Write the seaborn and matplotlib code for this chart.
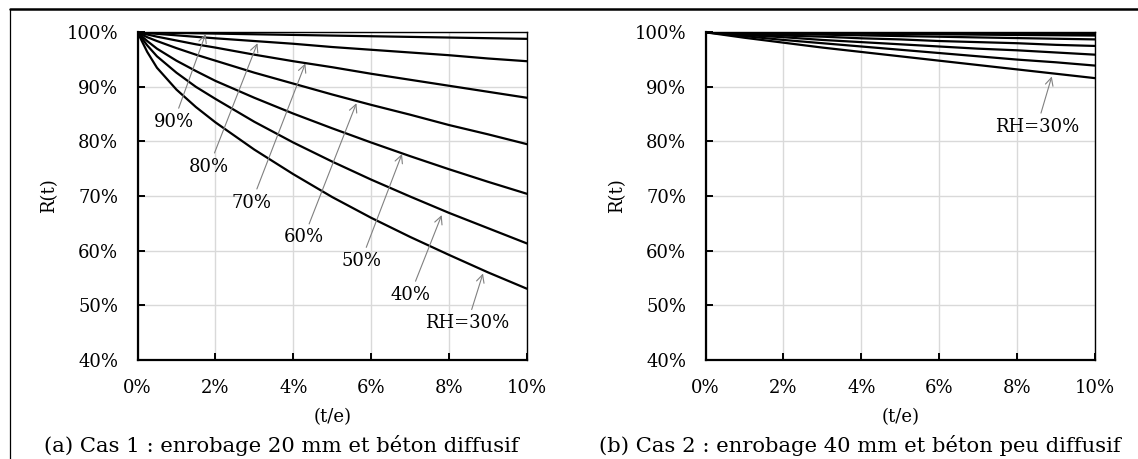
import matplotlib
matplotlib.use("Agg")
import matplotlib.pyplot as plt
from matplotlib.lines import Line2D
from matplotlib.ticker import PercentFormatter
import seaborn as sns
import pandas as pd

# ---------------- data ----------------
rh_labels = ["90%", "80%", "70%", "60%", "50%", "40%", "RH=30%"]

# Case 1 : cover 20 mm, diffusive concrete  (x = t/e in %, y = R(t) in %)
t_case1 = [0, 0.25, 0.5, 1, 1.5, 2, 3, 4, 5, 6, 7, 8, 9, 10]
case1_rh90 = [100, 99.97, 99.94, 99.88, 99.82, 99.76, 99.64, 99.52, 99.40, 99.28, 99.16, 99.04, 98.92, 98.8]
case1_rh80 = [100, 99.86, 99.72, 99.45, 99.17, 98.9, 98.4, 97.9, 97.3, 96.8, 96.3, 95.8, 95.2, 94.7]
case1_rh70 = [100, 99.6, 99.2, 98.5, 97.8, 97.2, 95.9, 94.7, 93.6, 92.4, 91.3, 90.2, 89.1, 88.0]
case1_rh60 = [100, 99.1, 98.4, 97.1, 95.9, 94.8, 92.6, 90.6, 88.6, 86.7, 84.9, 83.0, 81.3, 79.5]
case1_rh50 = [100, 98.4, 97.0, 94.8, 92.9, 91.1, 88.0, 85.1, 82.4, 79.8, 77.3, 74.9, 72.6, 70.4]
case1_rh40 = [100, 97.6, 95.6, 92.6, 90.0, 87.8, 83.6, 79.8, 76.3, 73.0, 69.9, 66.9, 64.1, 61.3]
case1_rh30 = [100, 96.4, 93.5, 89.5, 86.3, 83.5, 78.5, 74.0, 69.8, 66.0, 62.5, 59.2, 56.0, 53.0]

# Case 2 : cover 40 mm, low-diffusivity concrete
t_case2 = [0, 1, 2, 3, 4, 5, 6, 7, 8, 9, 10]
case2_rh90 = [100, 99.97, 99.94, 99.91, 99.88, 99.85, 99.82, 99.79, 99.76, 99.73, 99.7]
case2_rh80 = [100, 99.93, 99.86, 99.80, 99.74, 99.68, 99.63, 99.57, 99.51, 99.46, 99.4]
case2_rh70 = [100, 99.84, 99.70, 99.57, 99.44, 99.31, 99.19, 99.06, 98.94, 98.82, 98.7]
case2_rh60 = [100, 99.7, 99.4, 99.2, 98.9, 98.7, 98.4, 98.2, 98.0, 97.7, 97.5]
case2_rh50 = [100, 99.5, 99.1, 98.6, 98.2, 97.8, 97.4, 97.0, 96.7, 96.3, 95.9]
case2_rh40 = [100, 99.3, 98.6, 98.0, 97.4, 96.8, 96.2, 95.6, 95.0, 94.5, 93.9]
case2_rh30 = [100, 99.0, 98.1, 97.2, 96.4, 95.6, 94.8, 94.0, 93.2, 92.4, 91.6]

x_ticks = [0, 2, 4, 6, 8, 10]
y_ticks = [40, 50, 60, 70, 80, 90, 100]
captions = ["(a) Cas 1 : enrobage 20 mm et béton diffusif",
            "(b) Cas 2 : enrobage 40 mm et béton peu diffusif"]


def long_frame(t, series):
    rows = []
    for lab, vals in zip(rh_labels, series):
        for x, y in zip(t, vals):
            rows.append({"t": x, "R": y, "RH": lab})
    return pd.DataFrame(rows)


df1 = long_frame(t_case1, [case1_rh90, case1_rh80, case1_rh70, case1_rh60,
                           case1_rh50, case1_rh40, case1_rh30])
df2 = long_frame(t_case2, [case2_rh90, case2_rh80, case2_rh70, case2_rh60,
                           case2_rh50, case2_rh40, case2_rh30])

# ---------------- style ----------------
sns.set_theme(style="whitegrid")
plt.rcParams["font.family"] = ["DejaVu Serif"]
plt.rcParams["axes.unicode_minus"] = False

W, H = 1138, 459
fig = plt.figure(figsize=(W / 100, H / 100), dpi=100)
fig.patch.set_facecolor("white")

ax_a = fig.add_axes([137.5 / W, 1 - 359.7 / H, 389.5 / W, 327.4 / H])
ax_b = fig.add_axes([705.5 / W, 1 - 359.7 / H, 389.5 / W, 327.4 / H])

black_pal = {lab: "black" for lab in rh_labels}

# annotation layout: (label, text position, arrow head position)
annots_a = [("90%", (0.93, 83.6), (1.75, 99.7)),
            ("80%", (1.84, 75.4), (3.08, 98.0)),
            ("70%", (2.93, 68.8), (4.31, 94.3)),
            ("60%", (4.27, 62.4), (5.62, 87.0)),
            ("50%", (5.74, 58.1), (6.79, 77.7)),
            ("40%", (7.00, 51.9), (7.81, 66.5)),
            ("RH=30%", (8.47, 46.7), (8.87, 55.8))]
annots_b = [("RH=30%", (8.51, 82.7), (8.89, 91.9))]

FS = 13
for ax, df, annots in [(ax_a, df1, annots_a), (ax_b, df2, annots_b)]:
    sns.lineplot(data=df, x="t", y="R", hue="RH", palette=black_pal,
                 linewidth=1.6, legend=False, ax=ax, sort=True)
    ax.set_xlim(0, 10)
    ax.set_ylim(40, 100)
    ax.set_xticks(x_ticks)
    ax.set_yticks(y_ticks)
    ax.xaxis.set_major_formatter(PercentFormatter(decimals=0))
    ax.yaxis.set_major_formatter(PercentFormatter(decimals=0))
    ax.set_facecolor("white")
    ax.grid(True, color="#d9d9d9", linewidth=1.0)
    ax.set_axisbelow(True)
    for side in ["left", "bottom"]:
        ax.spines[side].set_color("black")
        ax.spines[side].set_linewidth(1.6)
    for side in ["top", "right"]:
        ax.spines[side].set_color("black")
        ax.spines[side].set_linewidth(1.0)
    ax.tick_params(axis="both", direction="in", length=5, width=1.4,
                   colors="black", labelsize=FS, bottom=True, left=True)
    ax.tick_params(axis="x", pad=14)
    ax.tick_params(axis="y", pad=14)
    ax.set_xlabel("(t/e)", fontsize=FS, color="black", labelpad=8)
    ax.set_ylabel("R(t)", fontsize=FS, color="black", labelpad=6)
    for lab, txt, head in annots:
        ax.annotate(lab, xy=head, xytext=txt, ha="center", va="center",
                    fontsize=FS, color="black",
                    arrowprops=dict(arrowstyle="->", color="#808080",
                                    lw=0.8, shrinkA=1, shrinkB=0,
                                    mutation_scale=14))

# captions centred in their cells
fig.text(281 / W, 1 - 445 / H, captions[0], ha="center", va="center",
         fontsize=15.2, color="black")
fig.text(860 / W, 1 - 445 / H, captions[1], ha="center", va="center",
         fontsize=15.2, color="black")

# table-like frame: top rule and left rule
fig.add_artist(Line2D([10 / W, 1.0], [1 - 8.5 / H, 1 - 8.5 / H],
                      transform=fig.transFigure, color="black", lw=1.8))
fig.add_artist(Line2D([10 / W, 10 / W], [0, 1 - 8.5 / H],
                      transform=fig.transFigure, color="black", lw=0.9))

fig.savefig("out.png", dpi=100, facecolor="white")
